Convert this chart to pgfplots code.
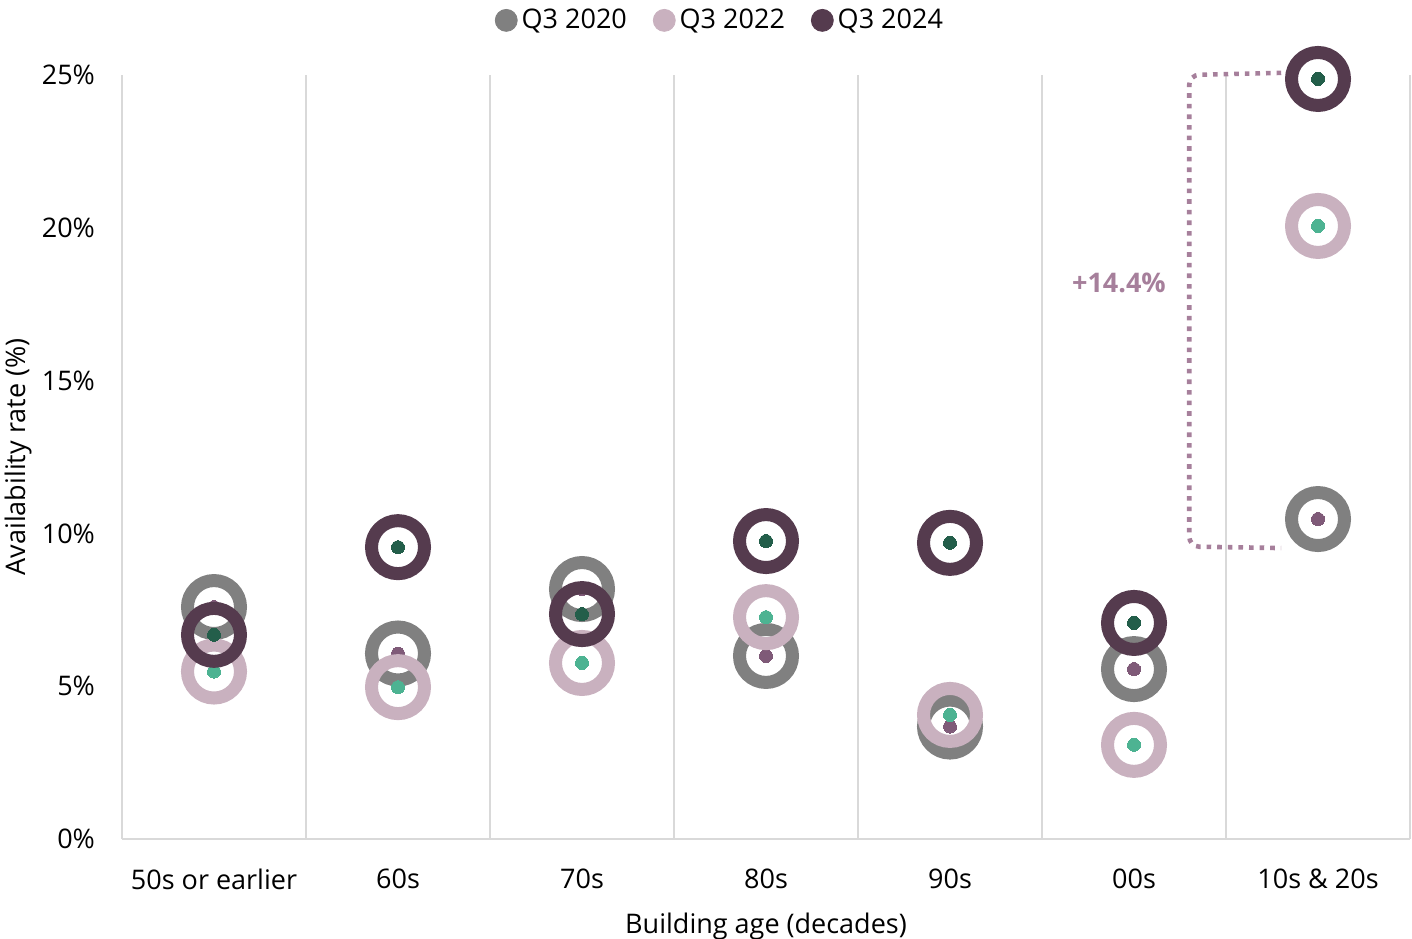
\documentclass[border=0pt]{standalone}
\usepackage{pgfplots}
\pgfplotsset{compat=1.18}
\usepackage{pgfplotstable}
\usepackage{fontspec}
\setmainfont{Open Sans}
\definecolor{cA}{HTML}{808080}
\definecolor{cB}{HTML}{C9B1BF}
\definecolor{cC}{HTML}{553B4E}
\definecolor{dA}{HTML}{7F5A78}
\definecolor{dB}{HTML}{4DB392}
\definecolor{dC}{HTML}{235E4A}
\definecolor{gridc}{HTML}{D9D9D9}
\definecolor{brk}{HTML}{A67F9B}
\pgfplotstableread{
x y
0 7.59
1 6.07
2 8.18
3 5.99
4 3.68
5 5.56
6 10.47
}\tA
\pgfplotstableread{
x y
0 5.48
1 4.97
2 5.76
3 7.26
4 4.06
5 3.08
6 20.06
}\tB
\pgfplotstableread{
x y
0 6.68
1 9.55
2 7.36
3 9.75
4 9.69
5 7.07
6 24.87
}\tC
\begin{document}
\begin{tikzpicture}
\useasboundingbox (-61pt,-49.5pt) rectangle (645pt,419.5pt);
\begin{axis}[
  at={(0pt,0pt)}, anchor=south west,
  scale only axis, width=644pt, height=382pt,
  xmin=-0.5, xmax=6.5, ymin=0, ymax=25,
  clip=false,
  font=\fontsize{13.5}{15}\selectfont,
  /pgf/number format/assume math mode=true,
  axis x line*=bottom, axis y line*=left,
  axis line style={draw=gridc, line width=0.75pt, -},
  xtick={0,...,6},
  xticklabels={50s or earlier,60s,70s,80s,90s,00s,10s \& 20s},
  minor xtick={0.5,1.5,...,6.5},
  minor x grid style={gridc, line width=0.75pt},
  xminorgrids=true,
  ytick={0,5,...,25},
  yticklabel={\pgfmathprintnumber{\tick}\%},
  major tick length=0pt, minor tick length=0pt,
  xticklabel style={yshift=-11.5pt},
  yticklabel style={xshift=-10pt},
  xlabel={Building age (decades)},
  ylabel={Availability rate (\%)},
  xlabel style={at={(axis description cs:0.5,-0.1145)}, anchor=center},
  ylabel style={at={(axis description cs:-0.0807,0.5)}, anchor=center},
  legend columns=3,
  legend style={at={(axis description cs:0.465,1.0715)}, anchor=center, draw=none, fill=none,
    /tikz/every even column/.append style={column sep=11pt},
    nodes={inner xsep=2pt},
    font=\fontsize{13.5}{15}\selectfont},
  legend image code/.code={\fill[#1] (0pt,0pt) circle (5.5pt);},
]
\addlegendimage{cA}\addlegendentry{Q3 2020}
\addlegendimage{cB}\addlegendentry{Q3 2022}
\addlegendimage{cC}\addlegendentry{Q3 2024}
\addplot[only marks, mark=o, mark size=13.25pt, mark options={draw=cA, line width=6.5pt}, forget plot] table {\tA};
\addplot[only marks, color=dA, mark=*, mark size=3.25pt, mark options={draw=dA, fill=dA, line width=0pt}, forget plot] table {\tA};
\addplot[only marks, mark=o, mark size=13.25pt, mark options={draw=cB, line width=6.5pt}, forget plot] table {\tB};
\addplot[only marks, color=dB, mark=*, mark size=3.25pt, mark options={draw=dB, fill=dB, line width=0pt}, forget plot] table {\tB};
\addplot[only marks, mark=o, mark size=13.25pt, mark options={draw=cC, line width=6.5pt}, forget plot] table {\tC};
\addplot[only marks, color=dC, mark=*, mark size=3.25pt, mark options={draw=dC, fill=dC, line width=0pt}, forget plot] table {\tC};
\draw[brk, line width=2.3pt, dash pattern=on 2.3pt off 3pt, rounded corners=5pt]
  (axis cs:5.8,25.07) -- (axis cs:5.3,25.0) -- (axis cs:5.3,9.57) -- (axis cs:5.8,9.52);
\node[brk, font=\fontsize{13.5}{15}\selectfont\bfseries] at (axis cs:4.918,18.19) {+14.4\%};
\end{axis}
\end{tikzpicture}
\end{document}
